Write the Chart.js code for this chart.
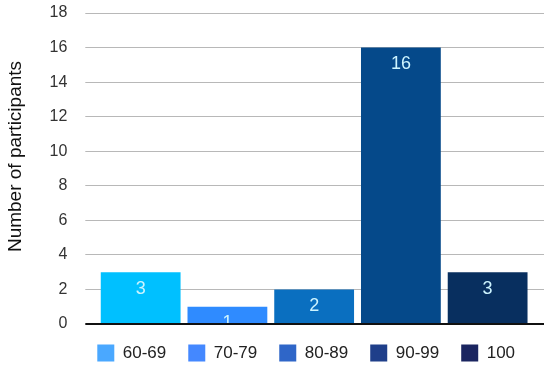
<!DOCTYPE html>
<html>
<head>
<meta charset="utf-8">
<script src="https://cdn.jsdelivr.net/npm/chart.js@4/dist/chart.umd.min.js"></script>
<style>
  html, body { margin: 0; padding: 0; background: #fff; }
  #wrap { width: 550px; height: 367px; }
</style>
</head>
<body>
<div id="wrap"><canvas id="myChart"></canvas></div>
<script>
// data
let scores = ['60-69', '70-79', '80-89', '90-99', '100'];
let participants = [3, 1, 2, 16, 3];
let barColours = ['#00c0ff', '#2f8bff', '#0a6fc0', '#05498a', '#082f5f'];
let legendColours = ['#4aa8ff', '#4488ff', '#2f66c8', '#1f3f8a', '#1a2560'];
let yTicks = [0, 2, 4, 6, 8, 10, 12, 14, 16, 18];
let yTitle = 'Number of participants';

let gridColour = '#b8b8b8';
let fontFamily = '"Liberation Sans", Arial, sans-serif';

// numbers inside bars, clipped to the bar
let barLabels = {
    id: 'barLabels',
    afterDatasetsDraw(chart) {
        let ctx = chart.ctx;
        let meta = chart.getDatasetMeta(0);
        ctx.save();
        ctx.font = '18px ' + fontFamily;
        ctx.fillStyle = '#cdf4ff';
        ctx.textAlign = 'center';
        ctx.textBaseline = 'middle';
        meta.data.forEach((bar, i) => {
            let half = bar.width / 2;
            ctx.save();
            ctx.beginPath();
            ctx.rect(bar.x - half, bar.y, bar.width, bar.base - bar.y);
            ctx.clip();
            ctx.fillText(participants[i], bar.x, bar.y + 16.5);
            ctx.restore();
        });
        ctx.restore();
    }
};

// legend row under the plot + the y title (sits a bit above centre)
let extras = {
    id: 'extras',
    afterDraw(chart) {
        let ctx = chart.ctx;
        let area = chart.chartArea;
        let box = 17, gap = 22;
        ctx.save();
        ctx.font = '17px ' + fontFamily;
        ctx.textBaseline = 'middle';
        let x = area.left;
        let y = area.bottom + 29;
        scores.forEach((s, i) => {
            ctx.fillStyle = legendColours[i];
            ctx.fillRect(x, y - box / 2, box, box);
            ctx.fillStyle = '#222';
            ctx.fillText(s, x + box + 8.5, y);
            x += box + 8.5 + ctx.measureText(s).width + gap;
        });

        ctx.translate(16, (area.top + area.bottom) / 2 - 12);
        ctx.rotate(-Math.PI / 2);
        ctx.font = '19px ' + fontFamily;
        ctx.fillStyle = '#111';
        ctx.textAlign = 'center';
        ctx.fillText(yTitle, 0, 0);
        ctx.restore();
    }
};

// tick padding should only push the labels sideways
let noVerticalPadding = axis => {
    axis.paddingTop = 0;
    axis.paddingBottom = 0;
};

let ctx = document.getElementById('myChart').getContext('2d');
let chart = new Chart(ctx, {
    type: 'bar',
    data: {
        labels: scores,
        datasets: [{
            data: participants,
            backgroundColor: barColours,
            barPercentage: 0.92,
            categoryPercentage: 1.0
        }]
    },
    options: {
        responsive: true,
        maintainAspectRatio: false,
        animation: false,
        layout: { padding: { top: 13, right: 6, left: 31.5, bottom: 43 } },
        plugins: {
            tooltip: { enabled: false },
            legend: { display: false }
        },
        scales: {
            x: { display: false },
            y: {
                min: 0,
                max: 18,
                afterBuildTicks: axis => { axis.ticks = yTicks.map(v => ({ value: v })); },
                afterFit: noVerticalPadding,
                grid: {
                    color: c => c.tick && c.tick.value === 0 ? '#111' : gridColour,
                    lineWidth: c => c.tick && c.tick.value === 0 ? 2 : 1,
                    tickLength: 12
                },
                border: { display: false },
                ticks: {
                    padding: 18,
                    color: '#333',
                    font: { size: 16, family: fontFamily }
                }
            },
            yRight: {
                position: 'right',
                min: 0,
                max: 18,
                afterBuildTicks: axis => { axis.ticks = yTicks.map(v => ({ value: v })); },
                afterFit: noVerticalPadding,
                grid: {
                    drawOnChartArea: false,
                    color: c => c.tick && c.tick.value === 0 ? '#111' : gridColour,
                    lineWidth: c => c.tick && c.tick.value === 0 ? 2 : 1,
                    tickLength: 13
                },
                border: { display: false },
                ticks: { display: false, padding: 0 }
            }
        }
    },
    plugins: [barLabels, extras]
});
</script>
</body>
</html>
